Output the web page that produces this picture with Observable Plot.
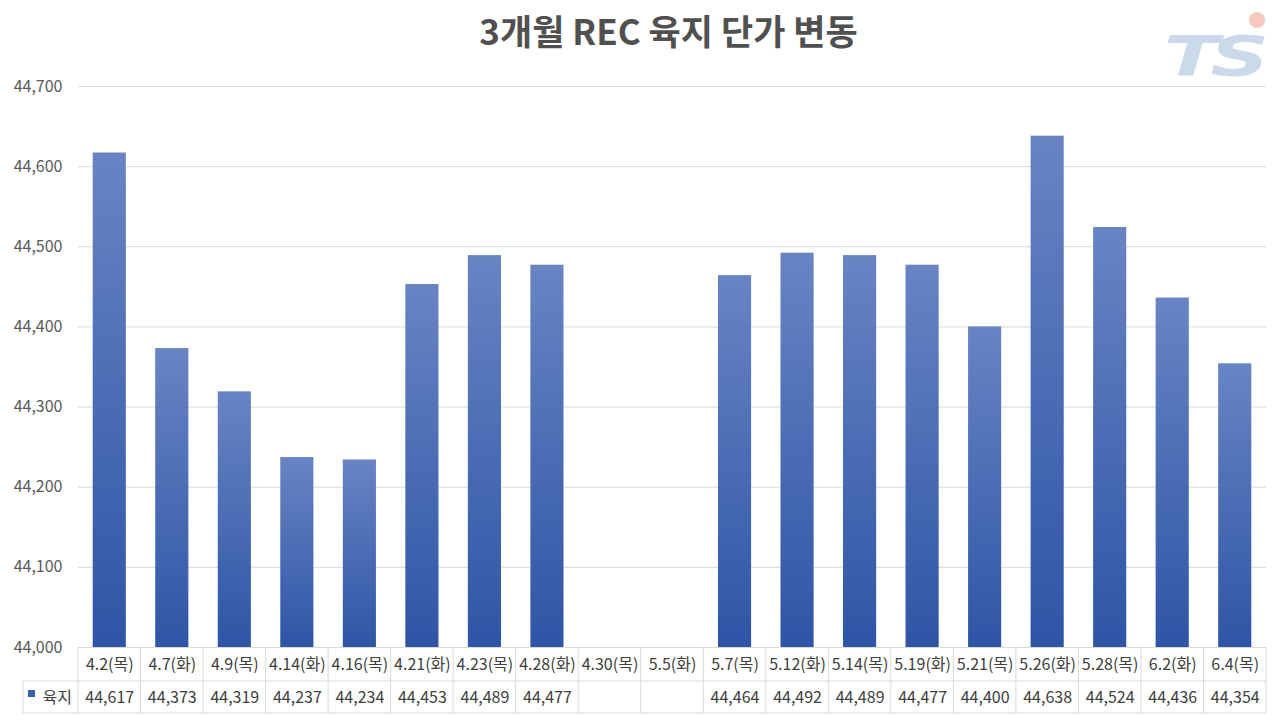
<!DOCTYPE html>
<html><head><meta charset="utf-8">
<script src="https://cdn.jsdelivr.net/npm/d3@7"></script>
<script src="https://cdn.jsdelivr.net/npm/@observablehq/plot@0.6"></script>
<style>body{margin:0;background:#fff;overflow:hidden}</style>
</head><body><div id="chart"></div>
<script>
const title = "3개월 REC 육지 단가 변동";
const seriesName = "육지";
const dates = ["4.2(목)","4.7(화)","4.9(목)","4.14(화)","4.16(목)","4.21(화)","4.23(목)","4.28(화)","4.30(목)","5.5(화)","5.7(목)","5.12(화)","5.14(목)","5.19(화)","5.21(목)","5.26(화)","5.28(목)","6.2(화)","6.4(목)"];
const values = [44617,44373,44319,44237,44234,44453,44489,44477,null,null,44464,44492,44489,44477,44400,44638,44524,44436,44354];
const yTicks = [44000,44100,44200,44300,44400,44500,44600,44700];

const rows = dates.map((d, i) => ({date: d, value: values[i]}));
const fmt = d3.format(",");
const font = "'Noto Sans CJK KR', 'Malgun Gothic', sans-serif";
const textColor = "#404040";

const gradientDefs = () => {
  const defs = d3.create("svg:defs");
  const g = defs.append("linearGradient").attr("id", "barGrad")
    .attr("x1", 0).attr("y1", 0).attr("x2", 0).attr("y2", 1);
  g.append("stop").attr("offset", "0%").attr("stop-color", "#6884c3");
  g.append("stop").attr("offset", "100%").attr("stop-color", "#2e55a6");
  const lg = defs.append("linearGradient").attr("id", "logoDot")
    .attr("x1", 0).attr("y1", 0).attr("x2", 1).attr("y2", 1);
  lg.append("stop").attr("offset", "0%").attr("stop-color", "#f4b183");
  lg.append("stop").attr("offset", "100%").attr("stop-color", "#f29aa0");
  return defs.node();
};

const plot = Plot.plot({
  width: 1280,
  height: 720,
  marginTop: 86,
  marginBottom: 73,
  marginLeft: 78,
  marginRight: 14,
  style: {fontFamily: font, background: "#fff", overflow: "visible"},
  x: {domain: dates, paddingInner: 0.47, paddingOuter: 0.235, round: false, axis: null},
  y: {domain: [44000, 44700], axis: null},
  marks: [
    gradientDefs,
    Plot.gridY(yTicks, {stroke: "#d9d9d9", strokeOpacity: 1}),
    Plot.axisY(yTicks, {tickSize: 0, tickPadding: 16, tickFormat: fmt, fontSize: 16, fill: "#595959", label: null}),
    Plot.barY(rows, {filter: d => d.value != null, x: "date", y1: 44000, y2: "value", fill: "url(#barGrad)"}),
    Plot.text(dates, {x: d => d, frameAnchor: "bottom", dy: 17, fontSize: 16, fill: textColor, lineAnchor: "middle"}),
    Plot.text(rows, {filter: d => d.value != null, x: "date", text: d => fmt(d.value), frameAnchor: "bottom", dy: 50, fontSize: 16, fill: textColor, lineAnchor: "middle"}),
    Plot.text([title], {frameAnchor: "top", dy: -53, dx: -4, fontSize: 35, fontWeight: "bold", fill: "#505050", lineAnchor: "middle"}),
    Plot.text([seriesName], {frameAnchor: "bottom-left", dx: -36, dy: 50, fontSize: 16, fill: textColor, textAnchor: "start", lineAnchor: "middle"})
  ]
});

// table grid lines and legend swatch, positioned from the plot's x scale
const svg = d3.select(plot);
const xs = plot.scale("x");
const [r0, r1] = xs.range;
const step = xs.step;
const yBase = 647, yRow = 681, yBottom = 713, xLeft = 23;
const lineColor = "#d9d9d9";
const tbl = svg.append("g").attr("stroke", lineColor).attr("stroke-width", 1);
dates.forEach((d, i) => {
  const bx = xs.apply(d) - step * 0.235;
  tbl.append("line").attr("x1", bx).attr("x2", bx).attr("y1", yBase).attr("y2", yBottom);
});
tbl.append("line").attr("x1", r1).attr("x2", r1).attr("y1", yBase).attr("y2", yBottom);
tbl.append("line").attr("x1", r0).attr("x2", r1).attr("y1", yBase + 0.5).attr("y2", yBase + 0.5);
tbl.append("line").attr("x1", xLeft).attr("x2", r1).attr("y1", yRow).attr("y2", yRow);
tbl.append("line").attr("x1", xLeft).attr("x2", r1).attr("y1", yBottom).attr("y2", yBottom);
tbl.append("line").attr("x1", xLeft).attr("x2", xLeft).attr("y1", yRow).attr("y2", yBottom);
svg.append("rect").attr("x", 28).attr("y", 690).attr("width", 7).attr("height", 7).attr("fill", "#3a5fae");

// logo
const logo = svg.append("g").attr("opacity", 0.6);
logo.append("text").attr("transform", "translate(1212,75) scale(1.45,1)").attr("text-anchor", "middle")
  .attr("font-family", "'DejaVu Sans', sans-serif").attr("font-weight", "bold").attr("font-style", "italic")
  .attr("font-size", 56).attr("fill", "#a9c2dd").attr("letter-spacing", -6).text("TS");
logo.append("circle").attr("cx", 1257).attr("cy", 20).attr("r", 8).attr("fill", "url(#logoDot)");

document.getElementById("chart").appendChild(plot);
</script>
</body></html>
